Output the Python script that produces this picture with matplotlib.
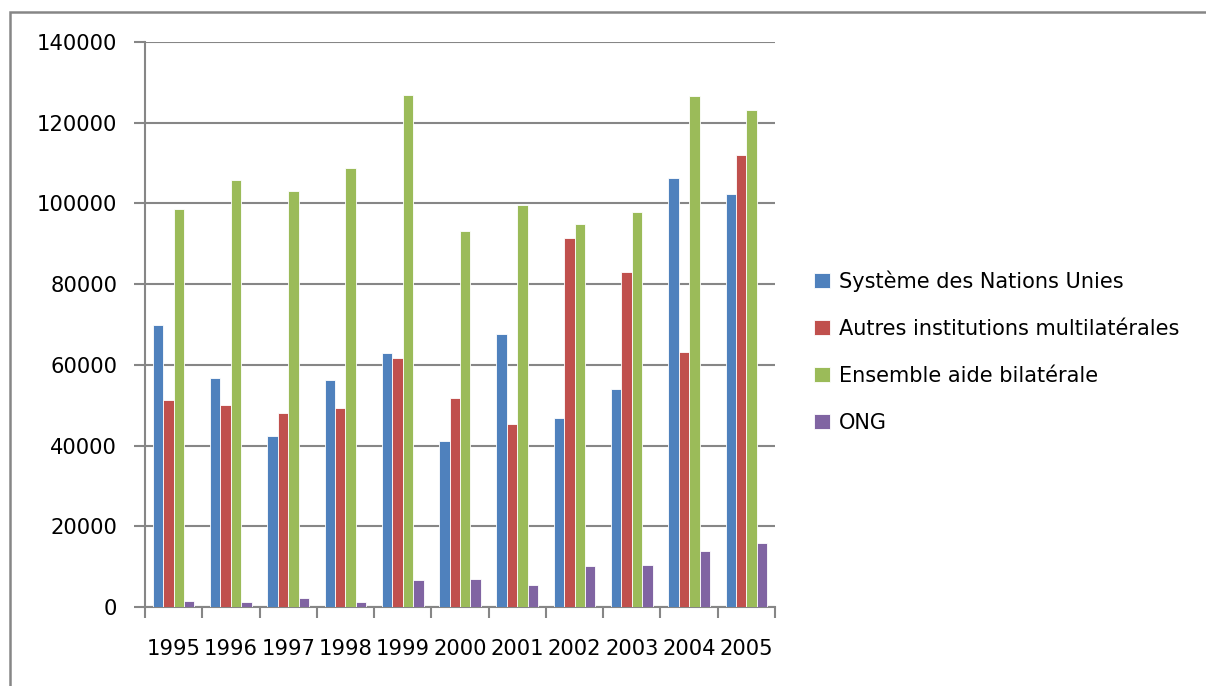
import matplotlib
matplotlib.use("Agg")
import matplotlib.pyplot as plt
import numpy as np
from matplotlib.patches import Rectangle

years = ["1995", "1996", "1997", "1998", "1999", "2000", "2001", "2002", "2003", "2004", "2005"]
nations_unies = [70000, 56800, 42400, 56200, 62900, 41200, 67600, 46900, 54100, 106200, 102400]
autres_multi = [51200, 50000, 48100, 49300, 61700, 51700, 45300, 91400, 82900, 63200, 112000]
bilaterale = [98500, 105900, 103100, 108700, 126800, 93100, 99500, 94800, 97900, 126500, 123100]
ong = [1500, 1200, 2200, 1200, 6800, 7000, 5500, 10100, 10300, 13900, 15800]

series = [
    ("Système des Nations Unies", nations_unies, "#4F81BD"),
    ("Autres institutions multilatérales", autres_multi, "#C0504D"),
    ("Ensemble aide bilatérale", bilaterale, "#9BBB59"),
    ("ONG", ong, "#8064A2"),
]

plt.rcParams['font.family'] = ['DejaVu Sans']

fig = plt.figure(figsize=(12.06, 6.86), dpi=100)
grey = "#868686"
fig.patches.append(Rectangle((9.5 / 1206, -0.1), 1.2, 1 - 11.5 / 686 + 0.1,
                             transform=fig.transFigure, fill=False,
                             edgecolor=grey, linewidth=1.8))

ax = fig.add_axes([145 / 1206, 1 - 607 / 686, 630 / 1206, 565 / 686])

n = len(years)
x = np.arange(n)
w = 1 / 5.5
for i, (name, vals, col) in enumerate(series):
    ax.bar(x + (i - 1.5) * w, vals, width=w, color=col, edgecolor="white",
           linewidth=0.6, label=name, zorder=3)

ax.set_xlim(-0.5, n - 0.5)
ax.set_ylim(0, 140000)
ax.set_yticks(np.arange(0, 140001, 20000))
ax.set_yticklabels([str(v) for v in range(0, 140001, 20000)])
ax.yaxis.grid(True, color=grey, linewidth=1.5, zorder=0)
ax.set_axisbelow(True)

ax.set_xticks(np.arange(-0.5, n, 1.0))
ax.set_xticklabels([])
ax.set_xticks(x, minor=True)
ax.set_xticklabels(years, minor=True)
ax.tick_params(axis='x', which='minor', length=0, pad=23, labelsize=15.2)
ax.tick_params(axis='x', which='major', length=8, width=1.5, color=grey, direction='out')
ax.tick_params(axis='y', length=8, width=1.5, color=grey, direction='out', pad=12, labelsize=15.2)

for s in ["top", "right"]:
    ax.spines[s].set_visible(False)
for s in ["left", "bottom"]:
    ax.spines[s].set_color(grey)
    ax.spines[s].set_linewidth(1.5)

leg = fig.legend(loc="upper left", bbox_to_anchor=(806 / 1206, 1 - 262 / 686),
                 frameon=False, fontsize=15, handlelength=0.75, handleheight=0.75,
                 handletextpad=0.45, labelspacing=1.3, borderaxespad=0)

fig.savefig("out.png", dpi=100)
